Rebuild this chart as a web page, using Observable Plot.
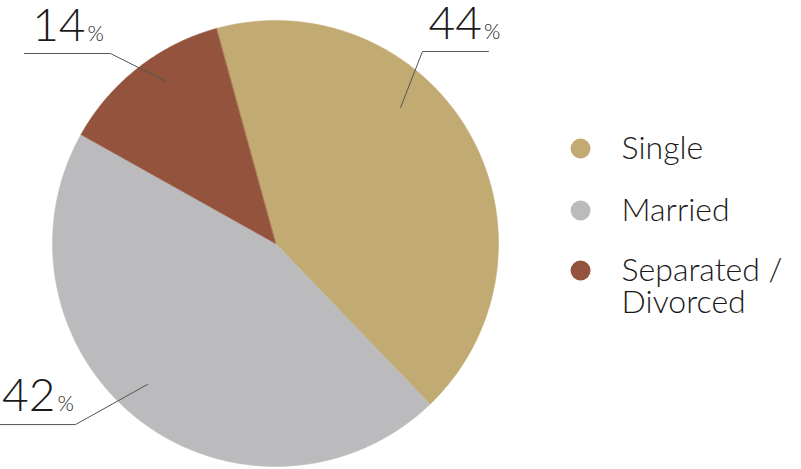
<!DOCTYPE html>
<html><head><meta charset="utf-8">
<script src="https://cdn.jsdelivr.net/npm/d3@7"></script>
<script src="https://cdn.jsdelivr.net/npm/@observablehq/plot@0.6"></script>
<style>html,body{margin:0;padding:0;background:#fff}</style>
</head><body><div id="chart"></div>
<script>
// ---- data ----
const categories = ["Single", "Married", "Separated / Divorced"];
const shares = [42.1, 45.3, 12.6];            // slice sizes as drawn (percent of circle)
const valueLabels = ["44", "42", "14"];       // printed labels
const legendLabels = ["Single", "Married", "Separated /\nDivorced"];
const colors = ["#C2AB72", "#BBBBBD", "#94533D"];

// ---- layout (annotations, in pie-radius units) ----
const startDeg = -15.4;
const leaders = {
  "Single": {line: [[0.561, 0.610], [0.659, 0.861], [0.955, 0.861]], text: [0.926, 0.919]},
  "Married": {line: [[-0.574, -0.632], [-0.897, -0.812], [-1.24, -0.812]], text: [-0.987, -0.749]},
  "Separated / Divorced": {line: [[-0.489, 0.726], [-0.740, 0.852], [-1.126, 0.852]], text: [-0.852, 0.906]}
};
const legendX = [1.368, 1.552];
const legendY = [0.426, 0.148, -0.121];

const rows = categories.map((c, i) => ({cat: c, share: shares[i], label: valueLabels[i], color: colors[i], legend: legendLabels[i]}));

const pie = d3.pie().sort(null).value(d => d.share)
  .startAngle(startDeg * Math.PI / 180).endAngle(startDeg * Math.PI / 180 + 2 * Math.PI);
const arcs = pie(rows);

function slicePoints(a) {
  const pts = [{x: 0, y: 0}];
  const n = Math.max(8, Math.ceil((a.endAngle - a.startAngle) / (Math.PI / 360)));
  for (let k = 0; k <= n; k++) {
    const t = a.startAngle + (a.endAngle - a.startAngle) * k / n;
    pts.push({x: Math.sin(t), y: Math.cos(t)});
  }
  return pts;
}

const sliceMarks = arcs.map(a => Plot.line(slicePoints(a), {
  x: "x", y: "y", curve: "linear-closed", fill: a.data.color, stroke: a.data.color, strokeWidth: 0.5
}));

const leaderMarks = rows.map(r => Plot.line(leaders[r.cat].line.map(([x, y]) => ({x, y})), {
  x: "x", y: "y", stroke: "#555", strokeWidth: 1
}));

const numData = rows.map(r => ({x: leaders[r.cat].text[0], y: leaders[r.cat].text[1], t: r.label}));

const legendData = rows.map((r, i) => ({x: legendX[0], tx: legendX[1], y: legendY[i], color: r.color, t: r.legend}));

const chart = Plot.plot({
  width: 801, height: 469, margin: 0,
  style: {fontFamily: "Lato, 'Open Sans', sans-serif", background: "#fff", color: "#1a1a1a"},
  x: {domain: [-1, 1], range: [52, 498], axis: null},
  y: {domain: [-1, 1], range: [466, 20], axis: null},
  marks: [
    ...sliceMarks,
    ...leaderMarks,
    Plot.text(numData, {x: "x", y: "y", text: "t", textAnchor: "end", lineAnchor: "bottom", fontSize: 46, fontWeight: 300, fill: "#1a1a1a"}),
    Plot.text(numData, {x: "x", y: "y", text: () => "%", textAnchor: "start", lineAnchor: "bottom", dx: 2, fontSize: 21, fontWeight: 300, fill: "#1a1a1a"}),
    Plot.dot(legendData, {x: "x", y: "y", r: 10, fill: "color", stroke: null}),
    Plot.text(legendData, {x: "tx", y: "y", text: "t", textAnchor: "start", lineAnchor: "top", lineHeight: 1.02, dy: -13, fontSize: 32, fontWeight: 300, fill: "#1a1a1a"})
  ]
});
document.getElementById("chart").append(chart);
</script>
</body></html>
